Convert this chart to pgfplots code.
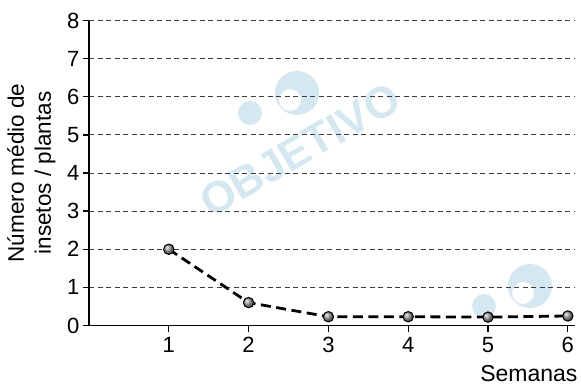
\documentclass[border=0pt]{standalone}
\usepackage{fontspec}
\setmainfont{Liberation Sans}
\usepackage{pgfplots}
\pgfplotsset{compat=1.18}
\definecolor{wm}{RGB}{212,232,241}
\begin{document}
\begin{tikzpicture}[x=1pt,y=1pt]
\path[use as bounding box] (0,0) rectangle (581,386);
\begin{scope}
\clip (0,0) rectangle (581,386);
% watermark logos (decoration)
\fill[wm, even odd rule] (297,293) circle (22) (290,286) circle (11);
\fill[wm] (250,273) circle (12);
\node[rotate=30, text=wm, font=\bfseries\fontsize{44}{44}\selectfont] at (300,236) {OBJETIVO};
\fill[wm, even odd rule] (530,100) circle (22) (523,93) circle (11);
\fill[wm] (484,80) circle (12);
\end{scope}
\begin{axis}[
  at={(89pt,60.5pt)}, anchor=south west,
  scale only axis, width=486pt, height=305pt,
  xmin=0, xmax=6.09, ymin=0, ymax=8,
  axis lines*=left,
  xtick={1,2,3,4,5,6}, ytick={0,1,2,3,4,5,6,7,8},
  tick align=outside, major tick length=6pt,
  ymajorgrids,
  grid style={black!75, line width=1pt, dash pattern=on 5pt off 3.5pt},
  axis line style={line width=1.8pt},
  tick style={line width=1.3pt, black},
  ticklabel style={font=\fontsize{22}{22}\selectfont},
  xticklabel style={yshift=-2pt},
  /pgf/number format/assume math mode=true,
  xlabel={Semanas},
  xlabel style={font=\fontsize{23}{23}\selectfont, at={(axis description cs:1,0)}, anchor=base east, yshift=-56pt, xshift=6pt},
  ylabel={Número médio de\\insetos / plantas},
  ylabel style={font=\fontsize{22.5}{27}\selectfont, align=center, at={(axis description cs:0,0.5)}, anchor=south, yshift=30pt},
]
\addplot[black, line width=2.8pt, dash pattern=on 10pt off 5.5pt,
  mark=ball, mark size=5.2pt, mark options={solid, ball color=gray!80, line width=1pt}]
  coordinates {(1,2.00) (2,0.60) (3,0.23) (4,0.23) (5,0.22) (6,0.25)};
\end{axis}
\end{tikzpicture}
\end{document}
